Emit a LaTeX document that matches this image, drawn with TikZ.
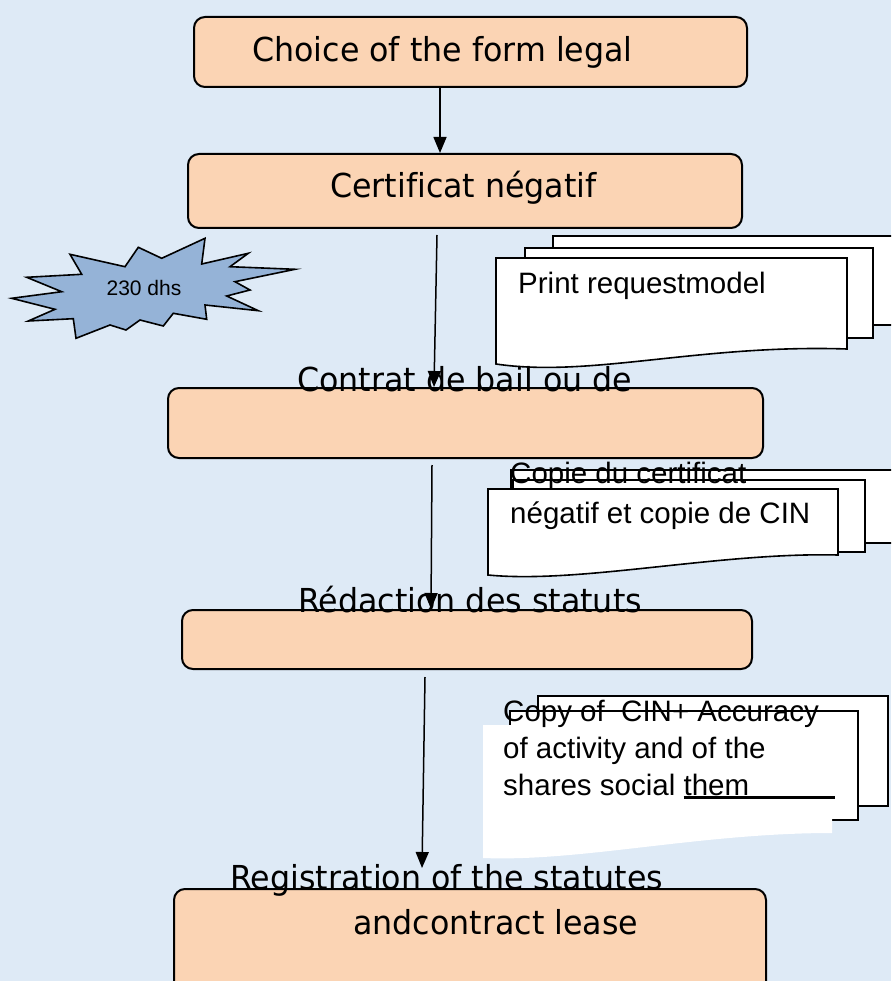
\documentclass[tikz,border=0pt]{standalone}
\usepackage{fontspec}
\setmainfont[Ligatures=NoCommon]{Liberation Sans}
\newfontfamily\stepfont[FakeStretch=0.96,Ligatures=NoCommon]{DejaVu Sans}
\usetikzlibrary{arrows.meta}

\definecolor{bgblue}{HTML}{DEEAF6}
\definecolor{peach}{HTML}{FBD4B4}
\definecolor{starblue}{HTML}{95B3D7}

\begin{document}
\begin{tikzpicture}[x=1pt,y=-1pt,
  stepbox/.style={draw, line width=2pt, rounded corners=11pt, fill=peach,
    inner sep=0pt, anchor=north west},
  steplabel/.style={inner sep=0pt, anchor=base west,
    font=\stepfont\fontsize{33}{38}\selectfont},
  docpage/.style={draw, fill=white, line width=1.6pt, line join=miter},
  doctext/.style={inner sep=0pt, anchor=base west,
    font=\fontsize{29.5}{37}\selectfont},
  flow/.style={line width=1.5pt, -{Triangle[length=16pt,width=13pt]}}]

% canvas
\useasboundingbox (0,0) rectangle (891,981);
\fill[bgblue] (0,0) rectangle (891,981);
\clip (0,0) rectangle (891,981);

% process steps
\node[stepbox, minimum width=553pt, minimum height=70pt] (choice) at (193,16) {};
\node[stepbox, minimum width=554pt, minimum height=74pt] (certif) at (187,153) {};
\node[stepbox, minimum width=595pt, minimum height=70pt] (bail) at (167,387) {};
\node[stepbox, minimum width=570pt, minimum height=59pt] (statuts) at (181,609) {};
\node[stepbox, minimum width=592pt, minimum height=130pt] (regist) at (173,888) {};

% supporting documents: request model
\draw[docpage] (553,236) rectangle (905,325);
\draw[docpage] (525,248) rectangle (873,338);
\draw[docpage] (496,258) -- (847,258) -- (847,349)
  .. controls (700,344) and (590,378) .. (496,364) -- cycle;

% supporting documents: certificate and identity card
\draw[docpage] (511,470) rectangle (905,543);
\draw[docpage] (513,480) rectangle (865,552);
\draw[docpage] (488,489) -- (838,489) -- (838,555)
  .. controls (720,552) and (580,584) .. (488,575) -- cycle;

% supporting documents: activity and shares
\draw[docpage] (538,696) rectangle (888,806);
\draw[docpage] (510,711) rectangle (858,820);
\fill[white] (483,725) -- (832,725) -- (832,833)
  .. controls (700,833) and (580,862) .. (483,858) -- cycle;

% fee burst
\draw[fill=starblue, line width=1.6pt, line join=miter]
  (11.7,298.3) -- (61.7,291.7) -- (26.7,277.3) -- (81.7,274.3) -- (70,254.3)
  -- (125,266.7) -- (138.3,247.3) -- (161.7,258.3) -- (205,238.3) -- (201.7,264)
  -- (248.3,253.3) -- (230,266.7) -- (295,269.3) -- (235,281.7) -- (250,290)
  -- (226.7,296) -- (258.3,310.7) -- (205,305) -- (206.7,319.3) -- (173.3,313.3)
  -- (163.3,326) -- (140,320) -- (126,330) -- (110,325) -- (76,338.3)
  -- (73.3,318.7) -- (28.3,321) -- (55,309.3) -- cycle;
\node[inner sep=0pt, anchor=base, font=\fontsize{21}{25}\selectfont] (fee) at (144,295) {230 dhs};

% flow
\coordinate (a1) at (440,0);
\coordinate (s2) at (437,235);
\coordinate (a2) at (434,0);
\coordinate (s3) at (432,465);
\coordinate (a3) at (431,0);
\coordinate (s4) at (425,677);
\coordinate (e4) at (422,868);
\draw[flow] (choice.south -| a1) -- (certif.north -| a1);
\draw[flow] (s2) -- (bail.north -| a2);
\draw[flow] (s3) -- (statuts.north -| a3);
\draw[flow] (s4) -- (e4);

% step labels
\node[steplabel] (lchoice) at (252,62) {Choice of the form legal};
\node[steplabel] (lcertif) at (330,198) {Certificat négatif};
\node[steplabel] (lbail) at (297,391) {Contrat de bail ou de};
\node[steplabel] (lstatuts) at (298,612) {Rédaction des statuts};
\node[steplabel] (lregist) at (230,889) {Registration of the statutes};
\node[steplabel] (lregistb) at (353,934) {andcontract lease};

% document labels
\node[doctext] (dprint) at (518,293) {Print requestmodel};
\node[doctext] (dcopie) at (510,483) {Copie du certificat};
\node[doctext] (dcopieb) at (510,523) {négatif et copie de CIN};
\node[doctext] (dcin) at (503,721) {Copy of\ \ CIN+ Accuracy};
\node[doctext] (dcinb) at (503,758) {of activity and of the};
\node[doctext] (dcinc) at (503,795) {shares social \rlap{\rule[-4pt]{151pt}{3pt}}them};
\end{tikzpicture}
\end{document}
